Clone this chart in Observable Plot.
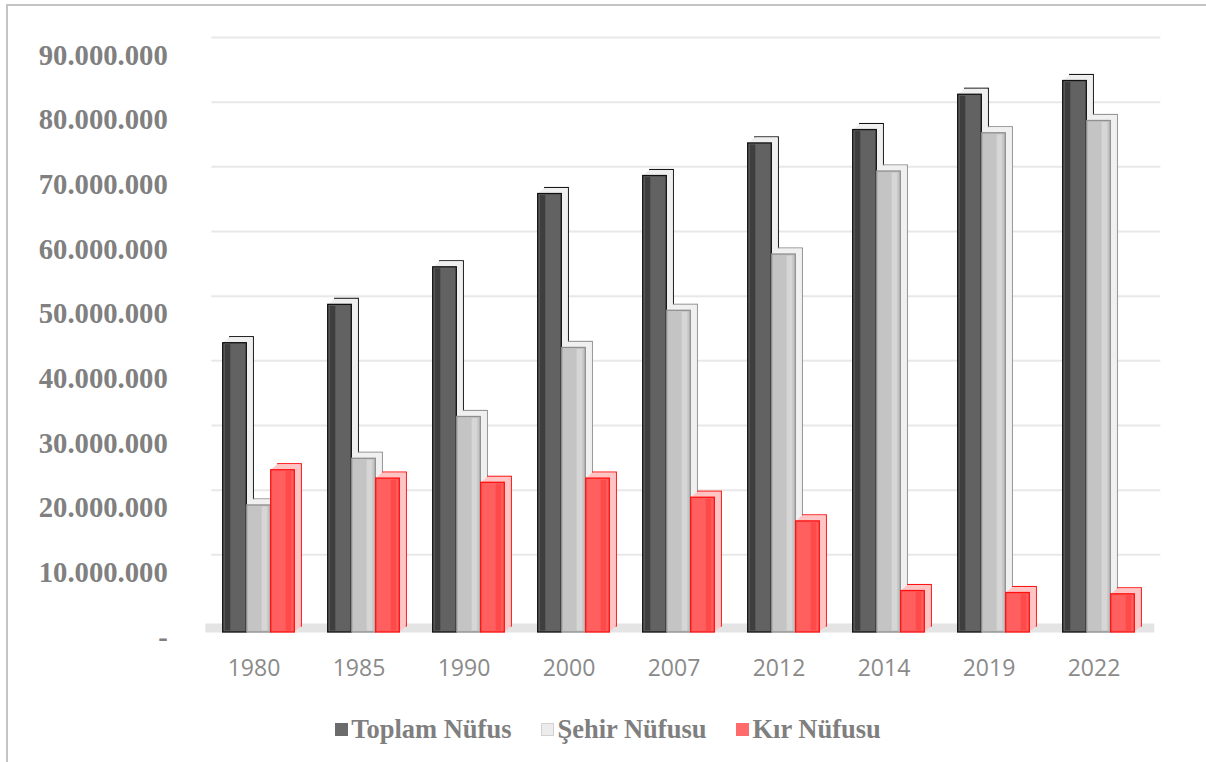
<!DOCTYPE html>
<html>
<head>
<meta charset="utf-8">
<script src="https://cdn.jsdelivr.net/npm/d3@7"></script>
<script src="https://cdn.jsdelivr.net/npm/@observablehq/plot@0.6"></script>
<style>
  html, body { margin: 0; padding: 0; background: #fff; overflow: hidden; }
  #wrap { position: relative; width: 1206px; height: 762px; }
  #frame { position: absolute; left: 6px; top: 4px; width: 1220px; height: 800px;
           border: 2px solid #c4c4c4; box-sizing: border-box; pointer-events: none; }
  #chart { position: absolute; left: 0; top: 0; }
  #legend { position: absolute; left: 0; top: 712px; width: 1206px; height: 34px;
            display: flex; justify-content: center; align-items: center; gap: 30px;
            font-family: "Liberation Serif", "Times New Roman", serif; font-weight: bold;
            font-size: 26.5px; color: #7f7f7f; padding-left: 10px; box-sizing: border-box; }
  .item { display: flex; align-items: center; }
  .sw { width: 13px; height: 13px; margin-right: 3px; box-sizing: border-box; }
</style>
</head>
<body>
<div id="wrap">
  <div id="chart"></div>
  <div id="legend"></div>
  <div id="frame"></div>
</div>
<script>
// ---- data ----
const years = ["1980", "1985", "1990", "2000", "2007", "2012", "2014", "2019", "2022"];
const toplam = [44736957, 50664458, 56473035, 67803927, 70586256, 75627384, 77695904, 83154997, 85279553];
const sehir  = [19645007, 26865757, 33326351, 44006274, 49747859, 58448431, 71286182, 77200000, 79100000];
const kir    = [25091950, 23798701, 23146684, 23797653, 20838397, 17178953, 6409722, 6100000, 5900000];
const yTicks = [0, 10000000, 20000000, 30000000, 40000000, 50000000, 60000000, 70000000, 80000000, 90000000];
const seriesNames = ["Toplam Nüfus", "Şehir Nüfusu", "Kır Nüfusu"];

// ---- styles ----
const styles = [
  {front: "#626262", frontStroke: "#111111", side: "#efefef", sideStroke: "#111111", insetLeft: 21.7, insetRight: 59.7,
   strip: "#3e3e3e", legend: "#6b6b6b", legendBorder: "#6b6b6b"},
  {front: "#c4c4c4", frontStroke: "#8f8f8f", side: "#f0f0f0", sideStroke: "#8f8f8f", insetLeft: 45.7, insetRight: 35.7,
   strip: "#d6d6d6", legend: "#ececec", legendBorder: "#d2d2d2"},
  {front: "#ff5f5f", frontStroke: "#ff1010", side: "#ffc4c4", sideStroke: "#ff1010", insetLeft: 69.7, insetRight: 11.7,
   strip: "#ff4a4a", legend: "#ff6b6b", legendBorder: "#ff6b6b"}
];
const seriesValues = [toplam, sehir, kir];

const fmt = d => d === 0 ? "-" : d3.format(",")(d).replace(/,/g, ".");

const depthX = 7, depthY = 6;
const barMarks = [];
seriesValues.forEach((vals, i) => {
  const data = years.map((y, j) => ({year: y, value: vals[j], series: seriesNames[i]}));
  const s = styles[i];
  const base = {x: "year", y: "value", insetLeft: s.insetLeft, insetRight: s.insetRight};
  // back face (top + right edges visible)
  barMarks.push(Plot.barY(data, {...base, fill: s.side, stroke: s.sideStroke, strokeWidth: 1.2, dx: depthX, dy: -depthY}));
  // extrusion
  for (let k = depthX - 0.5; k >= 0.5; k -= 0.5) {
    barMarks.push(Plot.barY(data, {...base, fill: s.side, dx: k, dy: -k * depthY / depthX}));
  }
  // front face
  barMarks.push(Plot.barY(data, {...base, fill: s.front, stroke: s.frontStroke, strokeWidth: 1.3}));
  // shading strip on the front face
  const stripData = data.map(d => ({...d}));
  if (i === 0) {
    barMarks.push(Plot.barY(stripData, {x: "year", y: "value", insetLeft: s.insetLeft + 2, insetRight: s.insetRight + 16,
      fill: s.strip, insetTop: 1.5, insetBottom: 1.5}));
  } else {
    barMarks.push(Plot.barY(stripData, {x: "year", y: "value", insetLeft: s.insetLeft + 15, insetRight: s.insetRight + 3,
      fill: s.strip, insetTop: 1.5, insetBottom: 1.5}));
  }
});

const chart = Plot.plot({
  width: 1206,
  height: 700,
  marginLeft: 199.3,
  marginRight: 57.7,
  marginTop: 50,
  marginBottom: 68,
  x: {domain: years, padding: 0, axis: null, label: null},
  y: {domain: [0, 90000000], axis: null, label: null},
  marks: [
    Plot.ruleY(yTicks.filter(d => d > 0), {y: d => d, stroke: "#e8e8e8", strokeWidth: 2, dx: 12, dy: -13}),
    Plot.ruleY([0], {y: d => d, stroke: "#e4e4e4", strokeWidth: 9, dx: 6, dy: -4.5}),
    ...barMarks,
    Plot.axisX({tickSize: 0, tickPadding: 27, fontSize: 23, fontFamily: "Open Sans", fill: "#8a8a8a", label: null}),
    Plot.axisY({ticks: yTicks, tickFormat: fmt, tickSize: 0, tickPadding: 32, dy: 5, label: null,
      fontSize: 28.7, fontWeight: "bold", fontFamily: "Liberation Serif", fill: "#808080"})
  ]
});
document.getElementById("chart").appendChild(chart);

// legend
const legend = document.getElementById("legend");
seriesNames.forEach((name, i) => {
  const it = document.createElement("div");
  it.className = "item";
  const sw = document.createElement("span");
  sw.className = "sw";
  sw.style.background = styles[i].legend;
  sw.style.border = "1px solid " + styles[i].legendBorder;
  const tx = document.createElement("span");
  tx.textContent = name;
  it.appendChild(sw); it.appendChild(tx);
  legend.appendChild(it);
});
</script>
</body>
</html>
